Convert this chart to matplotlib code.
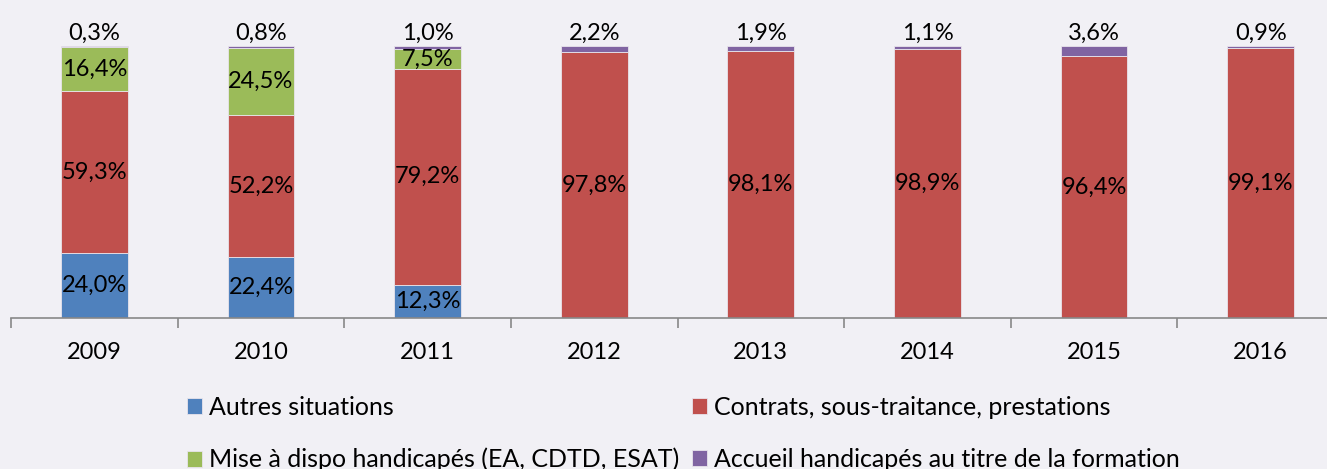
import matplotlib.pyplot as plt
import numpy as np

plt.rcParams['font.family'] = ['Lato', 'DejaVu Sans']

years = ['2009', '2010', '2011', '2012', '2013', '2014', '2015', '2016']
autres = [24.0, 22.4, 12.3, 0, 0, 0, 0, 0]
contrats = [59.3, 52.2, 79.2, 97.8, 98.1, 98.9, 96.4, 99.1]
mise_dispo = [16.4, 24.5, 7.5, 0, 0, 0, 0, 0]
accueil = [0.3, 0.8, 1.0, 2.2, 1.9, 1.1, 3.6, 0.9]

series = [
    ('Autres situations', autres, '#4F81BD'),
    ('Contrats, sous-traitance, prestations', contrats, '#C0504D'),
    ('Mise à dispo handicapés (EA, CDTD, ESAT)', mise_dispo, '#9BBB59'),
    ('Accueil handicapés au titre de la formation', accueil, '#8064A2'),
]

bg = '#F1F0F5'
fig = plt.figure(figsize=(13.27, 4.69), dpi=100, facecolor=bg)
ax = fig.add_axes([11 / 1327, 151 / 469, 1333 / 1327, 272 / 469])
ax.set_facecolor(bg)

x = np.arange(len(years))
bottom = np.zeros(len(years))
bars = {}
for name, vals, color in series:
    vals = np.array(vals, dtype=float)
    bars[name] = ax.bar(x, vals, 0.4, bottom=bottom, color=color,
                        edgecolor='#E8E4EC', linewidth=0.6, label=name)
    # etiquettes dans les segments (sauf la derniere serie)
    if name != series[-1][0]:
        for xi, b, v in zip(x, bottom, vals):
            if v > 0:
                ax.text(xi, b + v / 2, f'{v:.1f}%'.replace('.', ','),
                        ha='center', va='center', fontsize=17, color='black')
    bottom += vals

# etiquettes de la derniere serie, au-dessus des barres
for xi, v in zip(x, accueil):
    ax.text(xi, 104.5, f'{v:.1f}%'.replace('.', ','), ha='center', va='center',
            fontsize=17, color='black', clip_on=False)

ax.set_xlim(-0.5, len(years) - 0.5)
ax.set_ylim(0, 100)
ax.set_xticks(x)
ax.set_xticklabels(years, fontsize=17)
ax.set_xticks(np.arange(-0.5, len(years), 1), minor=True)
ax.tick_params(axis='x', which='major', length=0, pad=17)
ax.tick_params(axis='x', which='minor', length=7, color='#888888', width=1.2)
ax.set_yticks([])
for s in ['top', 'right', 'left']:
    ax.spines[s].set_visible(False)
ax.spines['bottom'].set_color('#888888')
ax.spines['bottom'].set_linewidth(1.2)

handles = [bars[series[0][0]], bars[series[2][0]], bars[series[1][0]], bars[series[3][0]]]
labels = [series[0][0], series[2][0], series[1][0], series[3][0]]
fig.legend(handles, labels, ncol=2, loc='center', bbox_to_anchor=(0.515, 0.075),
           frameon=False, fontsize=18, handlelength=0.6, handleheight=0.6,
           handletextpad=0.3, columnspacing=0.5, labelspacing=1.15)

fig.savefig('out.png', dpi=100, facecolor=bg)
